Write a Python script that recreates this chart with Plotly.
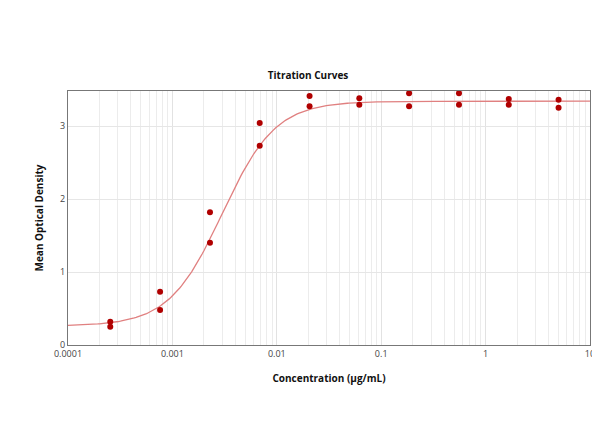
import numpy as np
import plotly.graph_objects as go

conc = [0.000254, 0.000762, 0.00229, 0.00686, 0.0206, 0.0617, 0.185, 0.556, 1.667, 5.0]
od_rep1 = [0.32, 0.73, 1.82, 3.04, 3.41, 3.38, 3.45, 3.45, 3.37, 3.36]
od_rep2 = [0.25, 0.48, 1.40, 2.73, 3.27, 3.29, 3.27, 3.29, 3.29, 3.25]
# 4PL fit parameters (bottom, top, EC50, hill)
fit_bottom, fit_top, fit_ec50, fit_hill = 0.26, 3.34, 0.0030, 1.7

xc = np.logspace(-4, 1, 300)
yc = fit_bottom + (fit_top - fit_bottom) / (1 + (fit_ec50 / xc) ** fit_hill)

fig = go.Figure()
fig.add_trace(go.Scatter(x=xc, y=yc, mode="lines", line=dict(color="#e08080", width=1.3), hoverinfo="skip"))
fig.add_trace(go.Scatter(x=conc + conc, y=od_rep1 + od_rep2, mode="markers",
                         marker=dict(color="#b00000", size=6)))
fig.update_layout(
    width=600, height=447, showlegend=False, plot_bgcolor="white", paper_bgcolor="white",
    margin=dict(l=60, r=18, t=83, b=110),
    font=dict(family="Open Sans", size=9, color="#444"),
    title=dict(text="<b>Titration Curves</b>", x=0.5, xanchor="center", y=0.85, yanchor="middle",
               font=dict(size=10, color="#111")),
)
fig.update_xaxes(type="log", range=[-4, 1], tickvals=[0.0001, 0.001, 0.01, 0.1, 1, 10],
                 ticktext=["0.0001", "0.001", "0.01", "0.1", "1", "10"],
                 showgrid=True, gridcolor="#e2e2e2", gridwidth=1,
                 minor=dict(showgrid=True, gridcolor="#ececec", dtick="D1"),
                 showline=True, linecolor="#777", mirror=True, zeroline=False, ticks="",
                 title=dict(text="<b>Concentration (μg/mL)</b>", font=dict(size=10, color="#111"), standoff=16))
fig.update_yaxes(range=[0, 3.48], tickvals=[0, 1, 2, 3], showgrid=True, gridcolor="#e6e6e6",
                 showline=True, linecolor="#777", mirror=True, zeroline=False, ticks="",
                 title=dict(text="<b>Mean Optical Density</b>", font=dict(size=10, color="#111"), standoff=14))
fig.write_html("out.html")
